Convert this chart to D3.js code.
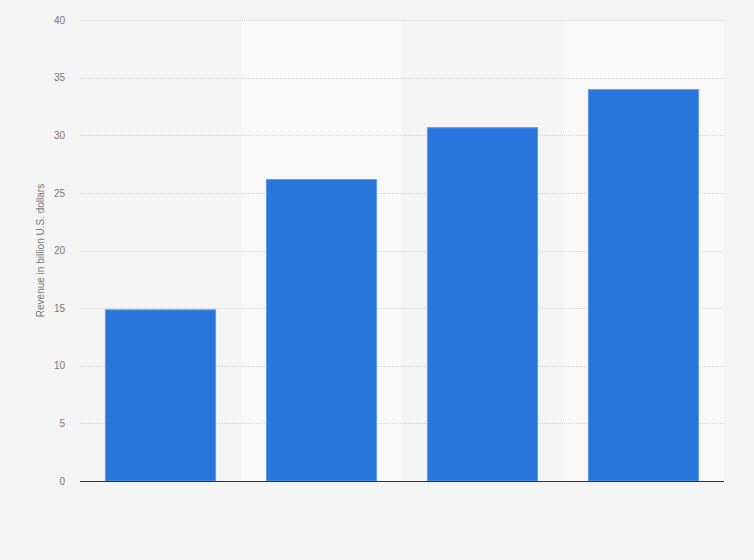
<!DOCTYPE html>
<html>
<head>
<meta charset="utf-8">
<script src="https://cdn.jsdelivr.net/npm/d3@7"></script>
<style>
  html, body { margin: 0; padding: 0; background: #f4f4f4; }
  svg { display: block; font-family: "Liberation Sans", Arial, sans-serif; }
</style>
</head>
<body>
<div id="chart"></div>
<script>
var width = 754,
    height = 560,
    margin = {top: 20, right: 30, bottom: 79, left: 80};

// data (the category labels are not shown in it)
var categories = ["A", "B", "C", "D"];
var revenue = [14.9, 26.2, 30.7, 34.0];
var yTicks = [0, 5, 10, 15, 20, 25, 30, 35, 40];

var barColor = "#2876db";

var x = d3.scaleBand()
    .domain(categories)
    .range([margin.left, width - margin.right])
    .paddingInner(0.31)
    .paddingOuter(0.155);

var y = d3.scaleLinear()
    .domain([0, 40])
    .range([height - margin.bottom, margin.top]);

var svg = d3.select("#chart").append("svg")
    .attr("width", width)
    .attr("height", height);

svg.append("rect")
    .attr("width", width)
    .attr("height", height)
    .attr("fill", "#f4f4f4");

// alternating column shading
svg.append("g")
  .selectAll("rect")
    .data(categories)
  .enter().append("rect")
    .attr("x", function(d) { return x(d) - x.step() * x.paddingOuter(); })
    .attr("y", margin.top)
    .attr("width", x.step())
    .attr("height", y(0) - margin.top)
    .attr("fill", function(d, i) { return i % 2 ? "#f8f8f8" : "#f4f4f4"; });

// gridlines
svg.append("g")
  .selectAll("line")
    .data(yTicks.filter(function(d) { return d > 0; }))
  .enter().append("line")
    .attr("x1", margin.left)
    .attr("x2", width - margin.right)
    .attr("y1", function(d) { return Math.round(y(d)) + 0.5; })
    .attr("y2", function(d) { return Math.round(y(d)) + 0.5; })
    .attr("stroke", "#d6d6d6")
    .attr("stroke-dasharray", "1,1");

// y axis labels
var yAxis = d3.axisLeft(y)
    .tickValues(yTicks)
    .tickSize(0)
    .tickPadding(15);

svg.append("g")
    .attr("transform", "translate(" + margin.left + ",0)")
    .call(yAxis)
    .call(function(g) { g.select(".domain").remove(); })
    .selectAll("text")
      .attr("fill", "#777")
      .style("font-size", "10px");

// bars
svg.append("g")
  .selectAll("rect")
    .data(revenue)
  .enter().append("rect")
    .attr("x", function(d, i) { return x(categories[i]) + 0.5; })
    .attr("y", function(d) { return y(d) + 0.5; })
    .attr("width", x.bandwidth() - 1)
    .attr("height", function(d) { return y(0) - y(d) - 0.5; })
    .attr("fill", barColor)
    .attr("stroke", "#5e9be6")
    .attr("stroke-width", 1);

// baseline
svg.append("line")
    .attr("x1", margin.left)
    .attr("x2", width - margin.right)
    .attr("y1", Math.round(y(0)) + 0.5)
    .attr("y2", Math.round(y(0)) + 0.5)
    .attr("stroke", "#333")
    .attr("stroke-width", 1.2);

// y axis title
svg.append("text")
    .attr("transform", "translate(44," + (margin.top + (y(0) - margin.top) / 2) + ")rotate(-90)")
    .attr("text-anchor", "middle")
    .attr("fill", "#777")
    .style("font-size", "10px")
    .text("Revenue in billion U.S. dollars");
</script>
</body>
</html>
